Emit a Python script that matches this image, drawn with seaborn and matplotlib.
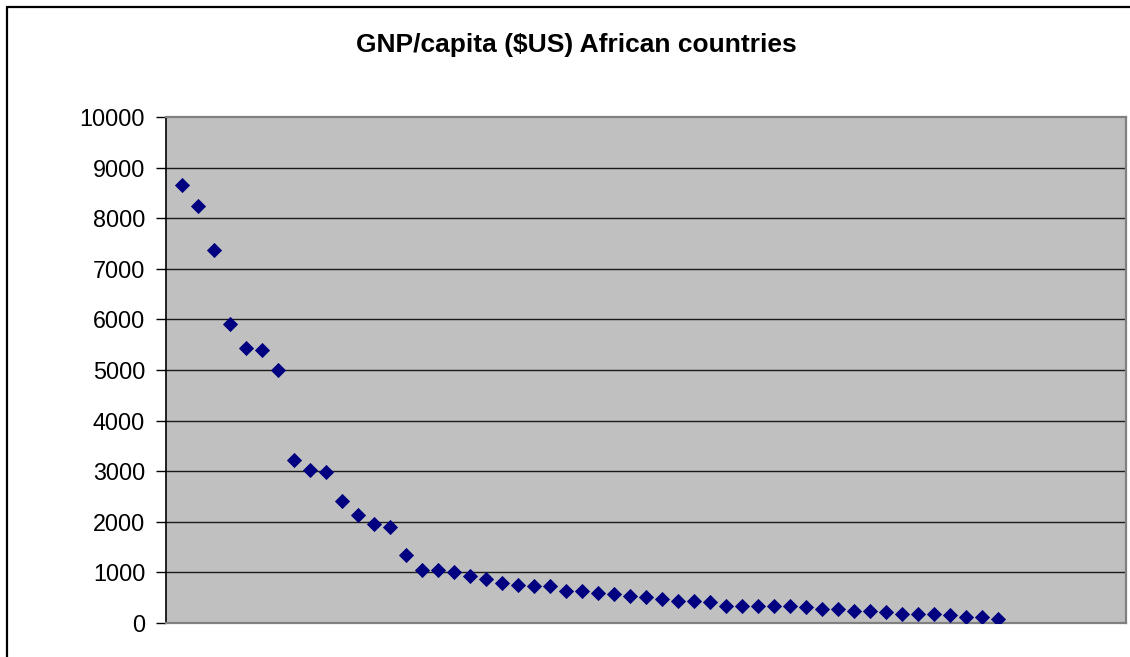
import matplotlib
matplotlib.use("Agg")
import matplotlib.pyplot as plt
from matplotlib.lines import Line2D
import numpy as np
import pandas as pd
import seaborn as sns

# GNP per capita in US dollars, African countries ranked from highest to lowest
gnp_per_capita = [
    8650, 8250, 7380, 5900, 5430, 5400, 5000,
    3230, 3030, 2980, 2420, 2130, 1960, 1900, 1350, 1050, 1050, 1010,
    930, 860, 800, 760, 730, 730, 630, 630, 600, 570, 540, 510, 470, 440, 440, 410, 340,
    340, 340, 340, 340, 310, 280, 280, 240, 240, 210, 180, 180, 180, 150, 110, 110, 80,
]
rank = list(range(1, len(gnp_per_capita) + 1))
y_ticks = list(range(0, 10001, 1000))
title = "GNP/capita ($US) African countries"

df = pd.DataFrame({"rank": rank, "gnp": gnp_per_capita})

sns.set_style("white")
plt.rcParams["font.family"] = ["Liberation Sans", "DejaVu Sans"]
plt.rcParams["text.color"] = "black"
plt.rcParams["ytick.color"] = "black"
plt.rcParams["ytick.labelcolor"] = "black"

fig = plt.figure(figsize=(11.3, 6.57), dpi=100)
W, H = 1130, 657
ax = fig.add_axes([166 / W, 1 - 623 / H, (1126 - 166) / W, (623 - 117) / H])
ax.set_facecolor("#C0C0C0")

# horizontal gridlines
for v in y_ticks[1:-1]:
    ax.axhline(v, color="#1a1a1a", lw=1.0, zorder=1)

sns.scatterplot(data=df, x="rank", y="gnp", marker="D", s=60, color="#000080",
                edgecolor="#000080", linewidth=0, ax=ax, zorder=3, legend=False)

ax.set_xlim(0, 60)
ax.set_ylim(0, 10000)
ax.set_yticks(y_ticks)
ax.set_yticklabels([str(v) for v in y_ticks], fontsize=16.8, color="black")
ax.set_xticks([])
ax.set_xlabel("")
ax.set_ylabel("")
ax.tick_params(axis="y", direction="out", length=7, width=1, color="black",
               labelcolor="black", pad=8, left=True)

for side in ["top", "right", "bottom"]:
    ax.spines[side].set_color("#808080")
    ax.spines[side].set_linewidth(1.6)
ax.spines["left"].set_color("black")
ax.spines["left"].set_linewidth(1.2)

fig.text(576 / W, 1 - 45 / H, title, ha="center", va="center",
         fontsize=19, fontweight="bold", color="black")

# chart-area border
fig.add_artist(Line2D([7 / W, 1.0], [1 - 7 / H, 1 - 7 / H], color="black", lw=1.6,
                      transform=fig.transFigure))
fig.add_artist(Line2D([7 / W, 7 / W], [1 - 7 / H, 0.0], color="black", lw=1.6,
                      transform=fig.transFigure))

fig.savefig("out.png", dpi=100, facecolor="white")
